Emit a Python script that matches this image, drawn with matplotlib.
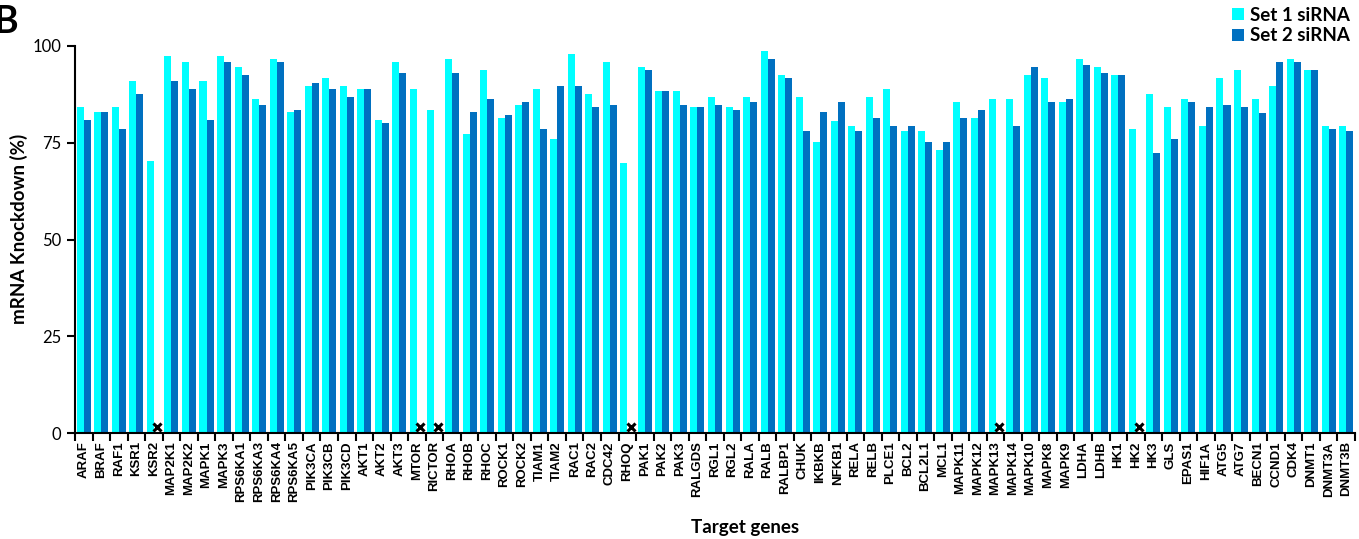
import numpy as np
import matplotlib
matplotlib.use("Agg")
import matplotlib.pyplot as plt
from matplotlib.ticker import FixedLocator, NullFormatter

genes = ["ARAF", "BRAF", "RAF1", "KSR1", "KSR2", "MAP2K1", "MAP2K2", "MAPK1", "MAPK3",
         "RPS6KA1", "RPS6KA3", "RPS6KA4", "RPS6KA5", "PIK3CA", "PIK3CB", "PIK3CD",
         "AKT1", "AKT2", "AKT3", "MTOR", "RICTOR", "RHOA", "RHOB", "RHOC", "ROCK1", "ROCK2",
         "TIAM1", "TIAM2", "RAC1", "RAC2", "CDC42", "RHOQ", "PAK1", "PAK2", "PAK3",
         "RALGDS", "RGL1", "RGL2", "RALA", "RALB", "RALBP1", "CHUK", "IKBKB", "NFKB1",
         "RELA", "RELB", "PLCE1", "BCL2", "BCL2L1", "MCL1", "MAPK11", "MAPK12", "MAPK13",
         "MAPK14", "MAPK10", "MAPK8", "MAPK9", "LDHA", "LDHB", "HK1", "HK2", "HK3", "GLS",
         "EPAS1", "HIF1A", "ATG5", "ATG7", "BECN1", "CCND1", "CDK4", "DNMT1", "DNMT3A", "DNMT3B"]

set1 = [84.2, 82.9, 84.2, 91.0, 70.4, 97.3, 95.9, 91.0, 97.3,
        94.5, 86.2, 96.6, 82.9, 89.7, 91.7, 89.7,
        89.0, 80.8, 95.9, 89.0, 83.5, 96.6, 77.3, 93.8, 81.4, 84.8,
        89.0, 75.9, 97.9, 87.6, 95.9, 69.7, 94.5, 88.3, 88.3,
        84.2, 86.9, 84.2, 86.9, 98.6, 92.4, 86.9, 75.2, 80.7,
        79.3, 86.9, 89.0, 78.0, 78.0, 73.1, 85.5, 81.4, 86.2,
        86.2, 92.4, 91.7, 85.5, 96.6, 94.5, 92.4, 78.6, 87.6, 84.2,
        86.2, 79.3, 91.7, 93.8, 86.2, 89.7, 96.6, 93.8, 79.3, 79.3]

nan = float("nan")
set2 = [80.8, 82.9, 78.6, 87.6, nan, 91.0, 89.0, 80.8, 95.9,
        92.4, 84.8, 95.9, 83.5, 90.4, 89.0, 86.9,
        89.0, 80.0, 93.1, nan, nan, 93.1, 82.9, 86.2, 82.1, 85.5,
        78.6, 89.7, 89.7, 84.2, 84.8, nan, 93.8, 88.3, 84.8,
        84.2, 84.8, 83.5, 85.5, 96.6, 91.7, 78.0, 82.9, 85.5,
        78.0, 81.4, 79.3, 79.3, 75.2, 75.2, 81.4, 83.5, nan,
        79.3, 94.5, 85.5, 86.2, 95.2, 93.1, 92.4, nan, 72.4, 75.9,
        85.5, 84.2, 84.8, 84.2, 82.8, 95.9, 95.9, 93.8, 78.6, 78.0]

yticks = [0, 25, 50, 75, 100]
series_names = ["Set 1 siRNA", "Set 2 siRNA"]

c1 = "#00FFFF"
c2 = "#0070C0"

fig = plt.figure(figsize=(13.59, 5.39), dpi=100)
ax = fig.add_axes([75 / 1359, 1 - 433 / 539, 1280 / 1359, (433 - 46) / 539])

x = np.arange(len(genes))
w = 0.4
s2 = np.array(set2, dtype=float)
ax.bar(x - w / 2, set1, width=w, color=c1, label=series_names[0], linewidth=0)
ax.bar(x + w / 2, np.nan_to_num(s2), width=w, color=c2, label=series_names[1], linewidth=0)
miss = np.isnan(s2)
ax.plot(x[miss] + w / 2, np.full(miss.sum(), 1.6), linestyle="none", marker="x",
        color="black", markersize=6, markeredgewidth=2.2, clip_on=False, zorder=5)

ax.set_xlim(-0.5, len(genes) - 0.5)
ax.set_ylim(0, 100)
for s in ["top", "right"]:
    ax.spines[s].set_visible(False)
ax.spines["left"].set_linewidth(1.5)
ax.spines["bottom"].set_linewidth(1.5)

ax.set_yticks(yticks)
ax.set_yticklabels([str(v) for v in yticks], fontsize=12, family="Lato")
ax.tick_params(axis="y", direction="out", length=6, width=1.5, pad=4)

ax.set_xticks(x)
ax.set_xticklabels(genes, rotation=90, fontsize=9.5, fontweight="bold", family="Liberation Sans")
ax.tick_params(axis="x", which="major", length=0, pad=6)
ax.xaxis.set_minor_locator(FixedLocator(np.arange(len(genes) + 1) - 0.5))
ax.xaxis.set_minor_formatter(NullFormatter())
ax.tick_params(axis="x", which="minor", direction="out", length=6, width=1.5)

fig.text(19 / 1359, 1 - 229 / 539, "mRNA Knockdown (%)", rotation=90, ha="center", va="center",
         fontsize=13.5, fontweight="bold", family="Lato")
fig.text(745 / 1359, 1 - 528 / 539, "Target genes", ha="center", va="center",
         fontsize=13.5, fontweight="bold", family="Lato")
fig.text(-6 / 1359, 1 - 22 / 539, "B", ha="left", va="center", fontsize=27,
         fontweight="bold", family="Lato")

leg = fig.legend(loc="upper right", bbox_to_anchor=(1.003, 1.012), frameon=False,
                 prop={"family": "Lato", "weight": "bold", "size": 13.5},
                 handlelength=0.6, handleheight=0.6, handletextpad=0.35, labelspacing=0.2,
                 borderpad=0.2)

fig.savefig("out.png", dpi=100)
